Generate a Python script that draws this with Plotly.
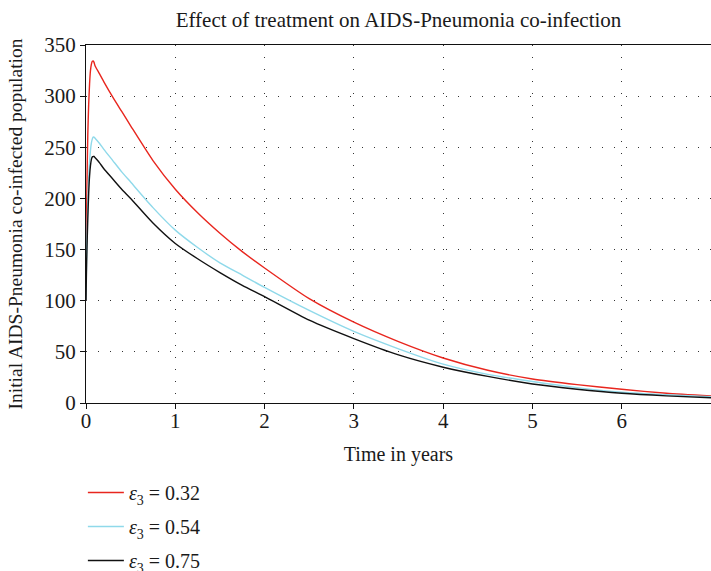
import plotly.graph_objects as go

# Time in years
t = [0, 0.005, 0.01, 0.02, 0.03, 0.04, 0.05, 0.06, 0.07, 0.08, 0.09, 0.1,
     0.15, 0.2, 0.3, 0.4, 0.5, 0.75, 1, 1.25, 1.5, 1.75, 2, 2.5, 3, 3.5,
     4, 4.5, 5, 5.5, 6, 6.5, 7]

# Co-infected population for each treatment rate
eps_032 = [100, 165, 210, 262, 292, 312, 325, 331, 334, 334.5, 333, 330,
           322, 314, 299, 285, 271, 237, 209, 186, 166, 148, 132, 102, 79, 60,
           44, 32, 23.5, 18, 13.4, 9.5, 6.8]
eps_054 = [100, 135, 160, 195, 220, 236, 247, 254, 258, 260, 260, 259,
           254, 248, 237, 226, 216, 191, 169, 152, 137, 125, 113, 90.5, 70, 53,
           38, 28, 21, 15, 10.5, 8, 6.2]
eps_075 = [100, 128, 148, 180, 205, 222, 232, 238, 240.5, 241, 241, 240,
           235, 229, 219, 209, 200, 176, 156, 141, 127.5, 115, 104, 81, 63, 47,
           35, 26, 18.6, 13.5, 9.5, 7, 5.2]

labels = ["<i>ε</i><sub>3</sub> = 0.32",
          "<i>ε</i><sub>3</sub> = 0.54",
          "<i>ε</i><sub>3</sub> = 0.75"]
colors = ["#e8261e", "#8fd9ea", "#111111"]

x_ticks = [0, 1, 2, 3, 4, 5, 6, 7]
y_ticks = [0, 50, 100, 150, 200, 250, 300, 350]

FONT = "Liberation Serif"
INK = "#1a1a1a"

fig = go.Figure()
for i, (ys, name, col) in enumerate(zip([eps_032, eps_054, eps_075], labels, colors)):
    fig.add_trace(go.Scatter(
        x=t, y=ys, mode="lines", name=name,
        line=dict(color=col, width=1.4, shape="spline", smoothing=0.6),
        legendgroup=f"g{i}",
    ))

W, H = 711, 571
ml, mr, mt, mb = 86, 0, 45, 168
ph = H - mb - mt

fig.update_layout(
    width=W, height=H,
    margin=dict(l=ml, r=mr, t=mt, b=mb, autoexpand=False),
    paper_bgcolor="white", plot_bgcolor="white",
    font=dict(family=FONT, size=20, color=INK),
    title=dict(text="Effect of treatment on AIDS-Pneumonia co-infection",
               x=(ml + (W - mr)) / 2 / W, xanchor="center",
               y=1 - 20 / H, yanchor="middle",
               font=dict(family=FONT, size=21, color=INK)),
    showlegend=True,
    legend=dict(x=-0.005, xanchor="left",
                y=-(473 - (H - mb)) / ph, yanchor="top",
                font=dict(family=FONT, size=20, color=INK),
                itemwidth=36,
                tracegroupgap=5, bgcolor="rgba(0,0,0,0)"),
)

grid_common = dict(showgrid=True, gridcolor="#333333", gridwidth=1,
                   griddash="1px,11px", zeroline=False)

fig.update_xaxes(
    range=[0, 7], tickvals=x_ticks, ticks="outside", ticklen=5,
    tickcolor="#111", showline=True, linecolor="#111", linewidth=1.3,
    mirror=True, automargin=False, ticklabelstandoff=-6,
    title=dict(text="Time in years", standoff=14,
               font=dict(family=FONT, size=20, color=INK)),
    tickfont=dict(family=FONT, size=21, color=INK),
    **grid_common,
)
fig.update_yaxes(
    range=[0, 350], tickvals=y_ticks, ticks="outside", ticklen=5,
    tickcolor="#111", showline=True, linecolor="#111", linewidth=1.3,
    automargin=False,
    title=dict(text="Initial AIDS-Pneumonia co-infected population",
               standoff=16, font=dict(family=FONT, size=19.5, color=INK)),
    tickfont=dict(family=FONT, size=21, color=INK),
    **grid_common,
)

fig.write_html("out.html")
